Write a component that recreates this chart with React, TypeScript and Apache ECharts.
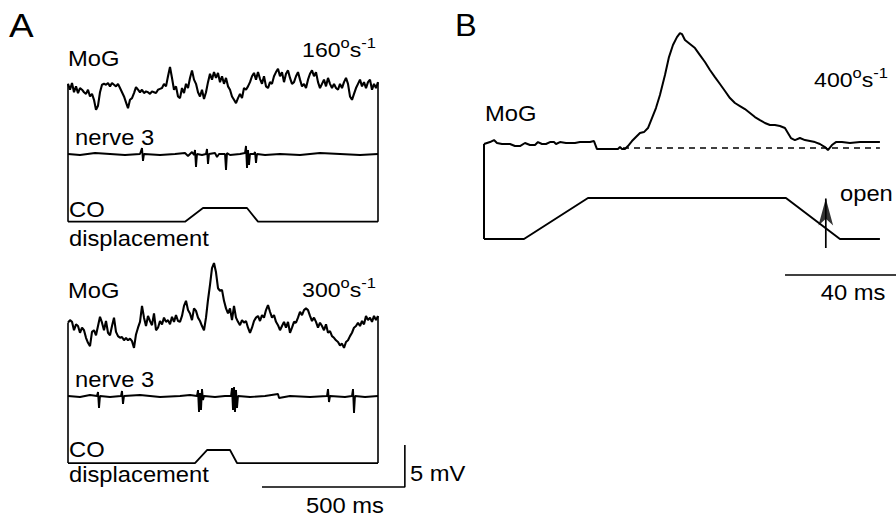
import React, { useEffect, useRef } from "react";
import * as echarts from "echarts";

// ---------------- DATA ----------------
// Panel A: MoG recordings sampled every DT_A ms (mV, relative to trace baseline)
const DT_A = 7;
const mogA160 = [
  0.5, -0.2, 0.6, -0.5, 0.2, -0.6, 0, -0.2, -0.5, -0.7,
  -0.2, -1.0, -0.7, -1.4, -2.6, -2.1, -0.5, 0.4, 0.5, 0.4,
  0.6, 0.2, 0.6, 0.4, 0.2, 0.5, 0, -0.5, -1.0, -1.7,
  -2.4, -1.4, -1.2, -0.6, 0.1, -0.2, -0.5, -0.2, -0.6, -0.4,
  -0.5, -0.7, -0.4, -0.5, -0.6, -0.2, -0.1, 0, 0.5, 0.2,
  1.4, 2.5, 1.2, -0.2, 0.2, -1.0, -1.2, 0, -0.6, 0.5,
  0, 1.2, 2.1, 1.0, 0.5, -0.5, -1.0, -0.2, -1.3, -0.5,
  0.7, 1.7, 1.0, 1.9, 1.2, 1.8, 0.7, 1.4, 0.5, 1.2,
  0.2, -0.2, -1.0, -1.4, -1.8, -1.2, -0.7, -1.2, 0, -0.2,
  0.2, 0.7, 1.4, 1.8, 1.0, 1.9, 1.1, 0.5, 1.4, 0.2,
  0, 0.7, 0.5, 1.4, 1.9, 2.3, 1.4, 1.9, 0.7, 1.7,
  2.1, 1.2, 0.5, 0.7, 1.4, 1.9, 1.0, 0.2, 0.5, 0,
  1.0, 1.7, 2.1, 1.4, 1.9, 0.7, 0, 0.5, 1.0, 0.2,
  1.2, 0.5, 0, 0.5, 0, -0.2, 0.5, 0, 0.7, 1.2,
  0.5, -1.0, -1.4, -0.7, 0, 0.5, 1.0, 0.2, 0.7, 0,
  0.7, 1.0, -0.2, 0.5, 0, 0.7,
];
const mogA300 = [
  0.4, 0.7, 0.5, -0.5, 0.2, 0, -0.8, -0.2, -0.5, -1.4,
  -2.0, -2.4, -0.7, -0.5, -1.1, 0, 1.1, 0.4, -0.5, 0.6,
  -0.8, -1.1, 0, 1.0, -0.7, -1.2, -1.4, -1.3, -1.7, -1.4,
  -1.7, -1.5, -1.8, -2.6, -1.0, -0.2, 0.5, 2.4, 1.0, 0,
  1.2, 0.6, 0.1, 1.5, -0.5, -0.2, 0.6, 0.2, 1.0, 0.5,
  0.7, 0.2, 1.1, 0.5, 1.3, 0.6, 0.5, 1.2, 2.4, 3.0,
  1.9, 1.5, 0.7, 2.1, 1.8, 1.0, 0.6, 0, -0.5, 1.0,
  3.1, 4.9, 6.9, 7.5, 6.4, 4.5, 4.2, 4.3, 3.0, 2.1,
  1.5, 2.1, 0.7, 2.4, 1.0, 0.5, 0.1, 0.7, 0.4, 0.6,
  -0.2, -0.8, -0.2, 0.6, 1.0, 1.2, 0.6, 1.3, 1.0, 1.9,
  2.5, 1.7, 1.0, 1.3, 0.5, 0.1, -0.5, 0, 0.5, -0.2,
  0.5, -0.8, -0.2, 0.5, 0.4, 1.0, 1.7, 1.3, 1.9, 2.1,
  1.9, 1.2, 0.6, 1.0, 0.5, -0.2, 0.4, 0, -0.5, 0.2,
  -0.8, -0.6, -1.2, -1.4, -1.7, -1.9, -2.3, -2.1, -2.6, -1.9,
  -1.7, -1.2, -0.8, -0.2, 0, 0.4, 0, 0.6, 0.2, 1.2,
  0.7, 1.0, 0.5, 1.2, 0.7, 1.2,
];
// nerve 3 recordings: [time ms, value]
const nerveA160 = [
  [0, 0], [42, -0.12], [94.5, 0.12], [147, 0], [199.5, -0.12], [252, 0],
  [259, 0.71], [262.5, -0.83], [266, 0], [322, -0.12], [374.5, 0], [409.5, 0.12],
  [420, -0.24], [434, 0.24], [441, -0.12], [444.5, 0.48], [448, -1.55], [451.5, 0],
  [469, -0.12], [483, 0], [486.5, 0.6], [490, -1.19], [493.5, 0], [514.5, 0.12],
  [521.5, -0.36], [528.5, 0], [549.5, 0], [553, -1.9], [556.5, 0.12], [567, -0.12],
  [602, 0], [619.5, 0.12], [623, 0.95], [626.5, -1.67], [630, 0.48], [633.5, -1.31],
  [637, 0], [651, 0], [654.5, 0.24], [658, -1.07], [661.5, 0], [689.5, -0.12],
  [742, 0], [812, -0.12], [882, 0.12], [952, 0], [1022, -0.12], [1085, 0],
];
const nerveA300 = [
  [0, 0], [42, -0.12], [77, 0.12], [101.5, 0], [105, 0.48], [108.5, -1.43], [112, 0],
  [147, -0.12], [185.5, 0], [189, 0.6], [192.5, -0.95], [196, 0], [252, 0.12],
  [322, -0.12], [392, 0], [427, 0.12], [451.5, 0], [455, 0.71], [458.5, -1.9],
  [462, 0.36], [465.5, -1.67], [469, 0.83], [472.5, -0.48], [476, 0], [514.5, -0.12],
  [549.5, 0], [570.5, 0], [574, 0.95], [577.5, -1.67], [581, 1.07], [584.5, -1.9],
  [588, 0.71], [591.5, -1.43], [595, 0], [637, -0.12], [689.5, 0], [735, 0.24],
  [738.5, -0.24], [777, 0], [847, -0.12], [906.5, 0], [910, 0.83], [913.5, -0.71],
  [917, 0], [969.5, -0.12], [994, 0], [997.5, 0.83], [1001, -2.02], [1004.5, 0],
  [1039.5, -0.12], [1085, 0],
];
// CO displacement: [time ms, displacement]
const coA160 = [[0, 0], [409.5, 0], [472.5, 1.63], [626.5, 1.63], [665, 0], [1085, 0]];
const coA300 = [[0, 0], [444.5, 0], [486.5, 1.55], [567, 1.55], [591.5, 0], [1085, 0]];

// Panel B (400°/s): MoG [time ms, mV above baseline]
const mogB400 = [
  [0, 0.48], [1.08, 0.6], [2.16, 0.71], [3.6, 0.95], [4.68, 0.6], [6.49, 0.48], [9.37, 0.48],
  [11.17, 0.24], [12.97, 0.24], [14.77, 0.6], [16.58, 0.36], [18.38, 0.36], [19.46, 0.71],
  [20.9, 0.48], [22.34, 0.48], [23.78, 0.71], [25.23, 0.71], [25.95, 0.48], [27.39, 0.71],
  [29.55, 0.6], [32.79, 0.6], [34.59, 0.71], [38.2, 0.71], [39.64, 0.83], [40.72, -0.12],
  [43.6, -0.12], [46.13, -0.12], [48.29, -0.12], [49.01, 0.12], [49.73, -0.12], [50.81, -0.12],
  [51.89, 0.24], [53.33, 0.83], [54.77, 1.31], [56.22, 1.79], [57.66, 1.9], [59.1, 2.38],
  [60.54, 3.57], [61.98, 4.76], [63.42, 6.31], [65.23, 8.69], [66.67, 10.83], [68.11, 12.26],
  [69.55, 13.21], [70.63, 13.69], [71.35, 13.57], [72.43, 12.86], [74.23, 12.38], [76.04, 11.9],
  [77.84, 11.07], [79.64, 10.24], [81.44, 9.29], [83.24, 8.45], [85.05, 7.62], [86.85, 6.79],
  [88.65, 5.95], [90.45, 5.36], [92.25, 5.0], [94.05, 4.64], [95.86, 4.17], [97.66, 3.69],
  [99.46, 3.33], [101.26, 2.98], [103.06, 2.74], [104.86, 2.74], [106.67, 2.62], [108.47, 2.38],
  [109.55, 1.79], [110.63, 1.19], [112.07, 0.95], [113.87, 1.19], [115.68, 0.95], [117.48, 0.83],
  [119.28, 0.71], [121.08, 0.48], [122.88, 0.12], [123.96, -0.24], [125.41, 0.36], [126.85, 0.71],
  [129.01, 0.71], [131.89, 0.6], [135.5, 0.71], [139.1, 0.71], [142.7, 0.71],
];
const coB400 = [[0, 0], [14.41, 0], [37.48, 4.88], [108.83, 4.88], [128.29, 0], [142.7, 0]];
const BASELINE_B_START = 50.1; // ms, dashed baseline start
const OPEN_T = 123.2; // ms, "open" event

// scale bars
const SCALE_A_MS = 500;
const SCALE_A_MV = 5;
const SCALE_B_MS = 40;

// stimulus speeds (°/s)
const speeds = ["160", "300", "400"];

// ---------------- LAYOUT ----------------
const PX_PER_MV = 8.4;
const PX_PER_MS_A = 2 / 7;
const PX_PER_MS_B = 2.775;
const FONT = '"Liberation Sans", Arial, Helvetica, sans-serif';
const FS = 22;
const SX = 1.08;

const A1 = { left: 68, bottomPx: 230, yMax: 20, xMax: 1200, mog: 16.9, nerve: 9.05, co: 0.99 };
const A2 = { left: 68, bottomPx: 490, yMax: 28, xMax: 1200, mog: 19.52, nerve: 11.19, co: 3.21, bar: 0.36 };
const B = { left: 484, bottomPx: 290, yMax: 32, xMax: 148.5, mog: 16.9, co: 6.07, bar: 1.79, arrowFrom: 5.0, arrowTip: 12.5 };
const ARROW_W = 11, ARROW_H = 27;

function App() {
  const ref = useRef<HTMLDivElement>(null);
  useEffect(() => {
    if (!ref.current) return;
    const chart = echarts.init(ref.current, undefined, { renderer: "svg" });

    const grid = (g: any, pxPerMs: number) => ({
      left: g.left,
      top: g.bottomPx - g.yMax * PX_PER_MV,
      width: g.xMax * pxPerMs,
      height: g.yMax * PX_PER_MV,
      containLabel: false,
    });
    const ax = (max: number) => ({ type: "value", min: 0, max, show: false });

    const ln = (gi: number, data: number[][], w = 1.5, dash?: number[]) => ({
      type: "line",
      xAxisIndex: gi,
      yAxisIndex: gi,
      data,
      symbol: "none",
      showSymbol: false,
      clip: false,
      silent: true,
      lineStyle: { color: "#000", width: w, type: dash ? dash : "solid", cap: "butt" },
      z: 2,
    });
    const shift = (arr: number[][], off: number) => arr.map((p) => [p[0], p[1] + off]);
    const sampled = (arr: number[], off: number) => arr.map((v, i) => [i * DT_A, v + off]);

    const blockA = (gi: number, g: any, mog: number[], nerve: number[][], co: number[][]) => {
      const m = sampled(mog, g.mog);
      const c = shift(co, g.co);
      const first = m[0], last = m[m.length - 1];
      return [
        ln(gi, m, 2.1),
        ln(gi, shift(nerve, g.nerve), 1.9),
        ln(gi, c, 1.8),
        ln(gi, [first, [first[0], c[0][1]]], 1.6),
        ln(gi, [last, [last[0], c[c.length - 1][1]]], 1.6),
      ];
    };

    const a2End = mogA300.length * DT_A + 87;
    const mB = shift(mogB400, B.mog);
    const cB = shift(coB400, B.co);

    const series: any[] = [
      ...blockA(0, A1, mogA160, nerveA160, coA160),
      ...blockA(1, A2, mogA300, nerveA300, coA300),
      // A scale bars
      ln(1, [[a2End - SCALE_A_MS, A2.bar], [a2End, A2.bar], [a2End, A2.bar + SCALE_A_MV]], 1.6),
      // B traces
      ln(2, mB, 2),
      ln(2, [[BASELINE_B_START, B.mog], [mB[mB.length - 1][0], B.mog]], 1.6, [6, 5]),
      ln(2, cB, 2),
      ln(2, [mB[0], [mB[0][0], cB[0][1]]], 2),
      ln(2, [[B.xMax - SCALE_B_MS, B.bar], [B.xMax, B.bar]], 1.6),
      ln(2, [[OPEN_T, B.arrowFrom], [OPEN_T, B.arrowTip - ARROW_H / 2 / PX_PER_MV]], 1.7),
      {
        type: "scatter",
        xAxisIndex: 2,
        yAxisIndex: 2,
        symbol: "arrow",
        symbolSize: [ARROW_W, ARROW_H],
        silent: true,
        clip: false,
        itemStyle: { color: "#000" },
        data: [[OPEN_T, B.arrowTip - ARROW_H / 2 / PX_PER_MV]],
        z: 3,
      },
    ];

    const txt = (x: number, y: number, text: string, size = FS, align = "left", sx = SX) => ({
      type: "text",
      x,
      y,
      scaleX: sx,
      silent: true,
      style: {
        text,
        fontSize: size,
        fontFamily: FONT,
        fill: "#000",
        textAlign: align,
        align,
        textVerticalAlign: "middle",
        verticalAlign: "middle",
      },
    });
    const speed = (x: number, y: number, v: string) => ({
      type: "text",
      x,
      y,
      scaleX: 1.1,
      silent: true,
      style: {
        text: `{n|${v}}{s|o}{n|s}{s|-1}`,
        fontFamily: FONT,
        fill: "#000",
        textAlign: "right",
        align: "right",
        textVerticalAlign: "middle",
        verticalAlign: "middle",
        rich: {
          n: { fontSize: 21, fontFamily: FONT, fill: "#000", verticalAlign: "bottom", lineHeight: 25 },
          s: { fontSize: 15, fontFamily: FONT, fill: "#000", verticalAlign: "top", lineHeight: 15 },
        },
      },
    });

    const graphic = [
      txt(9, 25, "A", 33, "left", 1.12),
      txt(455, 25, "B", 31, "left", 1.05),
      txt(68, 58, "MoG"),
      speed(376, 48, speeds[0]),
      txt(75, 137, "nerve 3"),
      txt(69, 209, "CO"),
      txt(69, 238, "displacement"),
      txt(68, 290, "MoG"),
      speed(376, 288, speeds[1]),
      txt(75, 379, "nerve 3"),
      txt(69, 449, "CO"),
      txt(69, 474, "displacement"),
      txt(410, 473, "5 mV"),
      txt(345, 505, "500 ms", FS, "center"),
      txt(485, 113, "MoG"),
      speed(888, 78, speeds[2]),
      txt(840, 193, "open"),
      txt(853, 292, "40 ms", FS, "center"),
    ];

    chart.setOption({
      animation: false,
      backgroundColor: "#fff",
      grid: [grid(A1, PX_PER_MS_A), grid(A2, PX_PER_MS_A), grid(B, PX_PER_MS_B)],
      xAxis: [ax(A1.xMax), ax(A2.xMax), ax(B.xMax)].map((a, i) => ({ ...a, gridIndex: i })),
      yAxis: [ax(A1.yMax), ax(A2.yMax), ax(B.yMax)].map((a, i) => ({ ...a, gridIndex: i })),
      series,
      graphic,
    });
    return () => chart.dispose();
  }, []);
  return (
    <div
      ref={ref}
      style={{ position: "fixed", left: 0, top: 0, width: 896, height: 516, background: "#fff" }}
    />
  );
}

export default App;
